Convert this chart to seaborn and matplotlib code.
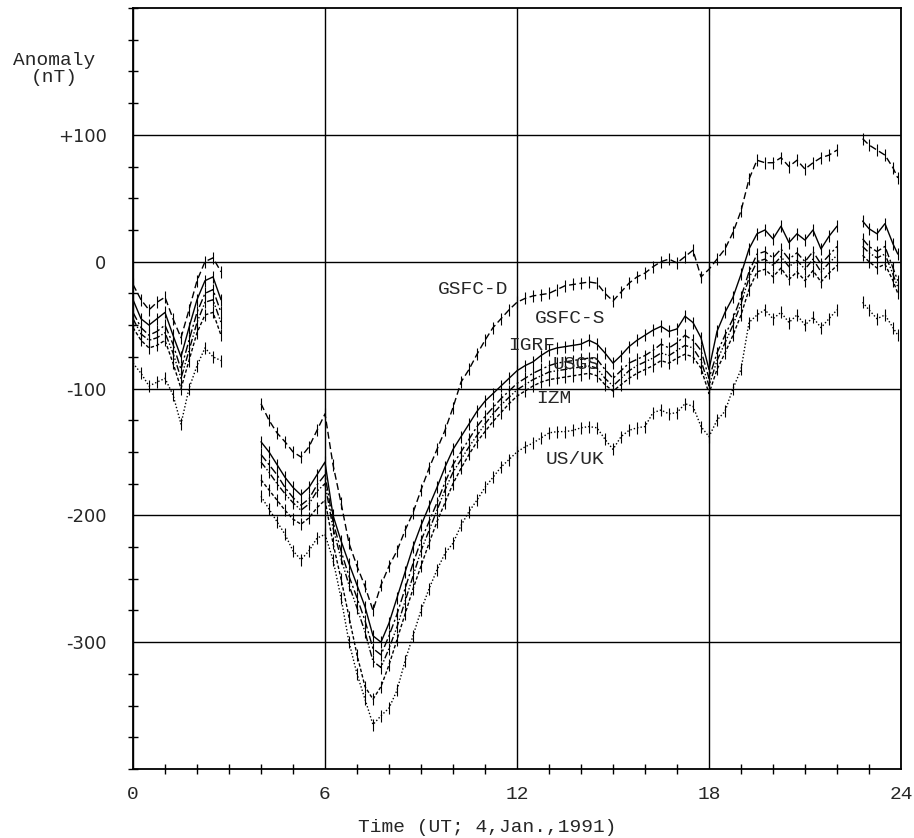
import matplotlib
matplotlib.use("Agg")
import matplotlib.pyplot as plt
import numpy as np
import pandas as pd
import seaborn as sns

# time grids (hours UT) -- data gaps 2.75-4.0 and 22.0-22.8
T1 = np.arange(0, 2.76, 0.25)
T2 = np.arange(4.0, 22.01, 0.25)
T3 = [22.8, 23.0, 23.25, 23.5, 23.75, 23.9]

SERIES = ["GSFC-D", "GSFC-S", "IGRF", "USGS", "IZM", "US/UK"]

# anomaly (nT)
gsfc_d_1 = [-18, -30, -38, -32, -28, -45, -60, -38, -15, 0, 3, -8]
gsfc_d_2 = [-112, -125, -135, -142, -150, -154, -146, -133,
            -120, -160, -190, -222, -240, -256, -275, -255,
            -240, -228, -212, -198, -180, -163, -148, -133,
            -115, -95, -85, -73, -62, -52, -45, -38,
            -32, -29, -27, -26, -25, -22, -19, -18,
            -17, -16, -17, -25, -31, -24, -17, -12,
            -9, -4, 0, 2, -1, 4, 9, -12,
            -6, 2, 10, 23, 40, 65, 80, 78,
            78, 82, 75, 80, 73, 78, 82, 84,
            88]
gsfc_d_3 = [97, 92, 88, 84, 74, 66]

gsfc_s_1 = [-30, -45, -50, -45, -40, -58, -75, -52, -30, -15, -12, -30]
gsfc_s_2 = [-142, -150, -160, -170, -178, -184, -178, -168,
            -158, -200, -220, -238, -255, -272, -295, -300,
            -285, -265, -245, -225, -208, -193, -178, -162,
            -148, -138, -128, -118, -110, -104, -98, -92,
            -86, -82, -79, -74, -70, -68, -67, -66,
            -65, -62, -65, -72, -80, -74, -67, -62,
            -58, -54, -51, -55, -53, -43, -48, -60,
            -85, -55, -40, -28, -10, 10, 22, 25,
            18, 28, 15, 22, 17, 25, 10, 20,
            28]
gsfc_s_3 = [32, 26, 22, 30, 14, 6]

igrf_1 = [-40, -52, -58, -55, -50, -65, -85, -62, -40, -25, -22, -40]
igrf_2 = [-152, -160, -168, -178, -186, -192, -187, -176,
          -168, -205, -228, -248, -265, -283, -305, -310,
          -295, -278, -258, -238, -220, -205, -190, -174,
          -160, -150, -140, -130, -122, -115, -108, -102,
          -96, -92, -88, -85, -82, -80, -79, -78,
          -77, -76, -77, -85, -92, -86, -80, -77,
          -74, -70, -65, -68, -64, -58, -62, -70,
          -92, -72, -58, -45, -28, -8, 6, 8,
          3, 10, 2, 7, 0, 8, -2, 5,
          12]
igrf_3 = [18, 12, 8, 12, -5, -15]

usgs_1 = [-45, -57, -62, -60, -56, -72, -92, -70, -48, -32, -30, -48]
usgs_2 = [-158, -166, -175, -183, -190, -196, -191, -181,
          -175, -210, -234, -255, -273, -292, -315, -320,
          -305, -288, -268, -248, -228, -212, -196, -180,
          -166, -156, -146, -137, -128, -120, -113, -107,
          -101, -97, -93, -90, -87, -86, -85, -84,
          -83, -82, -84, -92, -98, -92, -86, -82,
          -79, -76, -72, -74, -70, -66, -68, -78,
          -98, -78, -64, -50, -33, -13, 0, 2,
          -3, 4, -4, 1, -6, 2, -8, -1,
          5]
usgs_3 = [12, 7, 3, 6, -10, -20]

izm_1 = [-52, -62, -68, -66, -62, -80, -100, -78, -56, -42, -40, -58]
izm_2 = [-172, -180, -188, -196, -203, -207, -202, -194,
         -188, -222, -250, -280, -310, -335, -345, -335,
         -318, -298, -278, -258, -240, -222, -205, -190,
         -175, -163, -152, -142, -134, -126, -119, -112,
         -106, -102, -98, -95, -93, -92, -91, -90,
         -89, -88, -90, -97, -102, -97, -92, -88,
         -85, -82, -78, -80, -76, -73, -75, -84,
         -104, -85, -72, -58, -42, -22, -8, -6,
         -12, -5, -14, -8, -15, -7, -16, -9,
         -3]
izm_3 = [5, 0, -5, -2, -15, -25]

usuk_1 = [-80, -88, -98, -95, -92, -105, -128, -100, -82, -68, -75, -78]
usuk_2 = [-185, -195, -205, -215, -228, -235, -228, -218,
          -215, -235, -265, -300, -325, -345, -365, -358,
          -352, -338, -315, -295, -275, -258, -243, -230,
          -222, -208, -197, -188, -178, -170, -162, -156,
          -150, -146, -143, -139, -135, -134, -134, -133,
          -131, -130, -131, -140, -148, -138, -133, -131,
          -130, -119, -117, -120, -119, -112, -114, -130,
          -138, -125, -118, -100, -85, -48, -42, -38,
          -45, -40, -48, -42, -50, -44, -52, -45,
          -38]
usuk_3 = [-32, -38, -45, -42, -52, -58]

VALUES = {
    "GSFC-D": (gsfc_d_1, gsfc_d_2, gsfc_d_3),
    "GSFC-S": (gsfc_s_1, gsfc_s_2, gsfc_s_3),
    "IGRF": (igrf_1, igrf_2, igrf_3),
    "USGS": (usgs_1, usgs_2, usgs_3),
    "IZM": (izm_1, izm_2, izm_3),
    "US/UK": (usuk_1, usuk_2, usuk_3),
}

# label anchors (left edge, hours / nT)
LABEL_T = [9.53, 12.56, 11.72, 13.1, 12.6, 12.9]
LABEL_V = [-22, -45, -66, -81, -108, -156]

YTICKS = [-300, -200, -100, 0, 100]
YTICKLABELS = ["-300", "-200", "-100", "0", "+100"]
XTICKS = [0, 6, 12, 18, 24]

frames = []
for name in SERIES:
    for k, (tt, vv) in enumerate(zip((T1, T2, T3), VALUES[name])):
        frames.append(pd.DataFrame({"t": tt, "v": vv, "series": name,
                                    "unit": f"{name}-{k}"}))
df = pd.concat(frames, ignore_index=True)

sns.set_style("ticks")
MONO = "Liberation Mono"

fig = plt.figure(figsize=(9.14, 8.38), dpi=100)
ax = fig.add_axes([0.14551, 0.08234, 0.84026, 0.90811])

dashes = {
    "GSFC-D": (5, 2.5),
    "GSFC-S": "",
    "IGRF": (6, 2, 1.5, 2),
    "USGS": (5, 1.5, 1, 1.5, 1, 1.5),
    "IZM": (2.5, 1.5),
    "US/UK": (1, 1.5),
}
sns.lineplot(
    data=df, x="t", y="v", hue="series", style="series", units="unit",
    estimator=None, palette={n: "black" for n in SERIES},
    dashes=dashes, markers={n: "|" for n in SERIES},
    markersize=9, markeredgecolor="black", markeredgewidth=0.8,
    linewidth=1.0, legend=False, ax=ax,
)

for name, t0, v0 in zip(SERIES, LABEL_T, LABEL_V):
    ax.text(t0, v0, name, family=MONO, fontsize=14, ha="left", va="center")

ax.set_xlim(0, 24)
ax.set_ylim(-400, 200)
ax.set_xticks(XTICKS)
ax.set_xticks(range(25), minor=True)
ax.set_xticklabels([str(x) for x in XTICKS], family=MONO, fontsize=14)
ax.set_yticks(YTICKS)
ax.set_yticks(np.arange(-400, 201, 25), minor=True)
ax.set_yticklabels(YTICKLABELS, family="DejaVu Sans", fontsize=13)
ax.tick_params(which="major", length=0)
ax.tick_params(axis="x", which="major", pad=12)
ax.tick_params(axis="y", which="major", pad=19)
ax.tick_params(which="minor", direction="inout", length=7, width=1.0,
               color="black")
ax.grid(True, which="major", color="black", linewidth=1.0)
ax.set_axisbelow(True)
for s in ax.spines.values():
    s.set_color("black")
    s.set_linewidth(1.3)
ax.set_xlabel("")
ax.set_ylabel("")

fig.text(54 / 914, 1 - 69 / 838, "Anomaly\n(nT)", family=MONO, fontsize=14,
         ha="center", va="center", linespacing=1.0)
fig.text(487 / 914, 1 - 827 / 838, "Time (UT; 4,Jan.,1991)", family=MONO,
         fontsize=14, ha="center", va="center")

fig.savefig("out.png", dpi=100)
